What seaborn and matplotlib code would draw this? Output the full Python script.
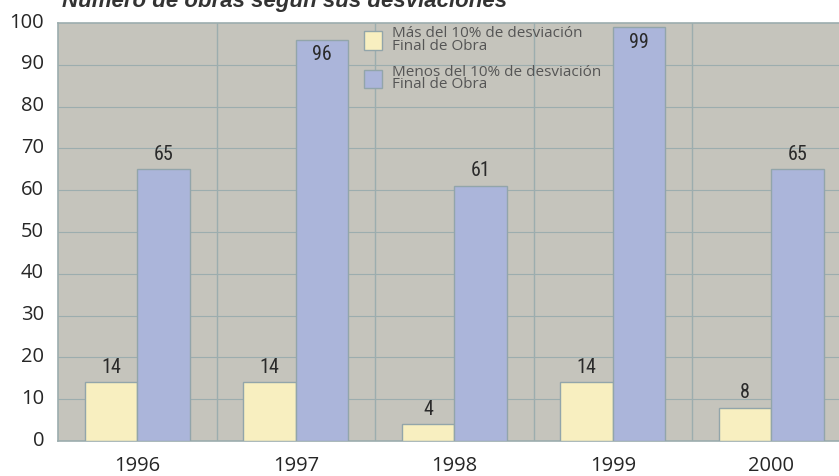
import matplotlib
matplotlib.use("Agg")
import matplotlib.pyplot as plt
import matplotlib.transforms as mtransforms
import seaborn as sns
import pandas as pd
from matplotlib.patches import Patch
from matplotlib import font_manager

years = ["1996", "1997", "1998", "1999", "2000"]
mas_10 = [14, 14, 4, 14, 8]
menos_10 = [65, 96, 61, 99, 65]
series_labels = ["Más del 10% de desviación\nFinal de Obra",
                 "Menos del 10% de desviación\nFinal de Obra"]
title = "Número de obras según sus desviaciones"

df = pd.DataFrame({
    "year": years * 2,
    "value": mas_10 + menos_10,
    "serie": [series_labels[0]] * len(years) + [series_labels[1]] * len(years),
})

sns.set_theme(style="white")
plt.rcParams["font.family"] = ["Open Sans", "DejaVu Sans"]

fonts = font_manager.fontManager.ttflist
has_condensed = any(f.name == "DejaVu Sans" and f.stretch in ("condensed", 75, "semi-condensed")
                    for f in fonts)
names = {f.name for f in fonts}
if "Liberation Sans Narrow" in names:
    val_font = dict(family=["Liberation Sans Narrow", "DejaVu Sans"])
elif "Roboto Condensed" in names:
    val_font = dict(family=["Roboto Condensed", "DejaVu Sans"])
elif has_condensed:
    val_font = dict(family=["DejaVu Sans"], fontstretch="condensed")
else:
    val_font = dict(family=["Roboto", "DejaVu Sans"])

colors = ["#f8efc0", "#abb5da"]
bg = "#c5c4bc"
grid_c = "#9cadae"

fig = plt.figure(figsize=(8.39, 4.76), dpi=100)
ax_h = (441 - 23)
ax = fig.add_axes([58 / 839, 1 - 441 / 476, (850.5 - 58) / 839, ax_h / 476])
ax.set_facecolor(bg)

sns.barplot(data=df, x="year", y="value", hue="serie", palette=colors,
            saturation=1, width=0.66, edgecolor="#92a5aa", linewidth=1.0, ax=ax,
            legend=False, zorder=3)

ax.set_xlim(-0.5, len(years) - 0.5)
ax.set_ylim(0, 100)
ax.set_yticks(range(0, 101, 10))
ax.set_xlabel("")
ax.set_ylabel("")

# gridlines
for yv in range(10, 100, 10):
    ax.axhline(yv, color=grid_c, lw=0.8, zorder=1)
for xv in range(1, len(years)):
    ax.axvline(xv - 0.5, color=grid_c, lw=1.0, zorder=1)
for s in ax.spines.values():
    s.set_color(grid_c)
    s.set_linewidth(1.2)

ax.tick_params(axis="both", length=0, labelsize=14.5, labelcolor="#262626")
ax.tick_params(axis="y", pad=10)
ax.tick_params(axis="x", pad=11)
shift = mtransforms.ScaledTranslation(0, 3 / 100, fig.dpi_scale_trans)
for lab in ax.get_yticklabels():
    lab.set_transform(lab.get_transform() + shift)

# value labels
for cont in ax.containers:
    for bar in cont:
        h = bar.get_height()
        xc = bar.get_x() + bar.get_width() / 2
        inside = h > 90
        ax.annotate(f"{int(round(h))}", (xc, h), xytext=(0, -4 if inside else 4),
                    textcoords="offset points", ha="center",
                    va="top" if inside else "bottom",
                    fontsize=14.5, color="#2a2a2a", zorder=5, **val_font)

handles = [Patch(facecolor=colors[0], edgecolor="#92a5aa"),
           Patch(facecolor=colors[1], edgecolor="#92a5aa")]
leg = ax.legend(handles, series_labels, loc="upper left",
                bbox_to_anchor=((355 - 58) / (850.5 - 58), 1.0 + 6 / ax_h),
                frameon=False, fontsize=11, handlelength=1.15, handleheight=1.45,
                handletextpad=0.7, labelspacing=0.7, borderaxespad=0.2)
for t in leg.get_texts():
    t.set_color("#555555")
    t.set_linespacing(0.8)

fig.text(62 / 839, 1 - 7 / 476, title, fontsize=16, fontweight="bold",
         fontstyle="italic", color="#333333", family=["Liberation Sans", "DejaVu Sans"],
         ha="left", va="baseline")

fig.savefig("out.png", dpi=100, facecolor="white")
